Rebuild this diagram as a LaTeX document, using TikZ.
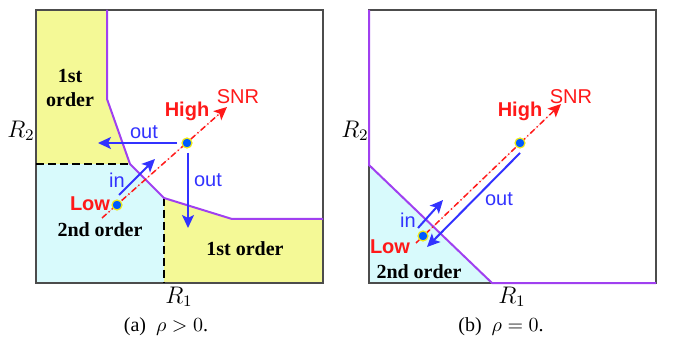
\documentclass[tikz,border=0pt]{standalone}
\usepackage{fontspec}
\setmainfont{Liberation Serif}
\setsansfont{Liberation Sans}
\usetikzlibrary{arrows.meta,positioning}

\definecolor{regyellow}{RGB}{244,249,150}
\definecolor{regcyan}{RGB}{216,250,252}
\definecolor{bndpurple}{RGB}{160,64,240}
\definecolor{arrblue}{RGB}{50,50,255}
\definecolor{snrred}{RGB}{255,25,25}
\definecolor{dotblue}{RGB}{0,90,255}
\definecolor{dotrim}{RGB}{240,235,20}

\begin{document}
\begin{tikzpicture}[
    x=0.5pt, y=-0.5pt,
    >={Stealth[length=6.5pt,width=6pt,inset=1.5pt]},
    region/.style={font=\bfseries, align=center, inner sep=1pt},
    boundary/.style={draw=bndpurple, line width=1pt},
    frame/.style={draw=black!70, line width=0.6pt},
    split/.style={draw=black, line width=1pt, dash pattern=on 4pt off 2pt},
    snr/.style={->, draw=snrred, fill=snrred, line width=0.75pt, dash pattern=on 3pt off 1.5pt on 0.6pt off 1.5pt},
    move/.style={->, draw=arrblue, fill=arrblue, line width=1pt},
    movelabel/.style={text=arrblue, font=\sffamily, inner sep=1pt},
    snrlabel/.style={text=snrred, font=\sffamily\bfseries, inner sep=1pt},
    point/.style={circle, fill=dotblue, draw=dotrim, line width=0.6pt, inner sep=0pt, minimum size=5pt},
    axislabel/.style={font=\large, inner sep=1pt},
    caption/.style={inner sep=1pt}
]

\useasboundingbox (0,0) rectangle (673,341);

% ---------------- (a) rho > 0 ----------------
% Regions
\fill[regcyan] (36,164) -- (130,164) -- (164,198) -- (164,283) -- (36,283) -- cycle;
\fill[regyellow] (36,10) -- (107,10) -- (107,99) -- (130,164) -- (36,164) -- cycle;
\fill[regyellow] (164,198) -- (232,219) -- (323,219) -- (323,283) -- (164,283) -- cycle;
\draw[frame] (36,10) rectangle (323,283);

% Order borders and capacity boundary
\draw[split] (36,164) -- (130,164);
\draw[split] (164,198) -- (164,283);
\draw[boundary] (107,10) -- (107,99) -- (130,164) -- (164,198) -- (232,219) -- (323,219);

% Region labels
\node[region] (firstA) at (70,88) {1st\\order};
\node[region] (secondA) at (100,230) {2nd order};
\node[region] (firstB) at (245,249) {1st order};
\node[axislabel] (r2a) at (21,131) {$R_2$};
\node[axislabel] (r1a) at (179,297) {$R_1$};

% SNR direction
\coordinate (snrA0) at (102,218);
\coordinate (snrA1) at (227,107);
\draw[snr] (snrA0) -- (snrA1);
\node[snrlabel] (highA) at (187,111) {High};
\node[text=snrred, font=\sffamily, inner sep=1pt] (snrA) at (238,97) {SNR};
\node[snrlabel] (lowA) at (90,204) {Low};

% Moves in and out of the boundary
\coordinate (outLa0) at (177,143);
\coordinate (outLa1) at (98,143);
\coordinate (outDa0) at (188,153);
\coordinate (outDa1) at (188,228);
\coordinate (inA0) at (119,195);
\coordinate (inA1) at (155,159);
\draw[move] (outLa0) -- (outLa1);
\draw[move] (outDa0) -- (outDa1);
\draw[move] (inA0) -- (inA1);
\node[movelabel] (outLa) at (144,132) {out};
\node[movelabel] (outDa) at (208,180) {out};
\node[movelabel] (inA) at (117,180) {in};

% Operating points
\node[point] (ptLowA) at (117,205) {};
\node[point] (ptHighA) at (187,143) {};

\node[caption] (capA) at (166,327) {(a)\ \ $\rho>0$.};

% ---------------- (b) rho = 0 ----------------
\fill[regcyan] (369,165) -- (492,283) -- (369,283) -- cycle;
\draw[frame] (369,10) rectangle (656,283);
\draw[boundary] (369,10) -- (369,165) -- (492,283) -- (656,283);

\node[region] (secondC) at (419,272) {2nd order};
\node[axislabel] (r2b) at (355,131) {$R_2$};
\node[axislabel] (r1b) at (512,297) {$R_1$};

% SNR direction
\coordinate (snrB0) at (416,243);
\coordinate (snrB1) at (561,104);
\draw[snr] (snrB0) -- (snrB1);
\node[snrlabel] (highB) at (520,111) {High};
\node[text=snrred, font=\sffamily, inner sep=1pt] (snrB) at (571,97) {SNR};
\node[snrlabel] (lowB) at (390,247) {Low};

% Moves in and out of the boundary
\coordinate (inB0) at (418,228);
\coordinate (inB1) at (443,200);
\coordinate (outB0) at (520,153);
\coordinate (outB1) at (427,247);
\draw[move] (inB0) -- (inB1);
\draw[move] (outB0) -- (outB1);
\node[movelabel] (inB) at (408,220) {in};
\node[movelabel] (outB) at (499,199) {out};

% Operating points
\node[point] (ptLowB) at (423,236) {};
\node[point] (ptHighB) at (520,143) {};

\node[caption] (capB) at (501,327) {(b)\ \ $\rho=0$.};

\end{tikzpicture}
\end{document}
